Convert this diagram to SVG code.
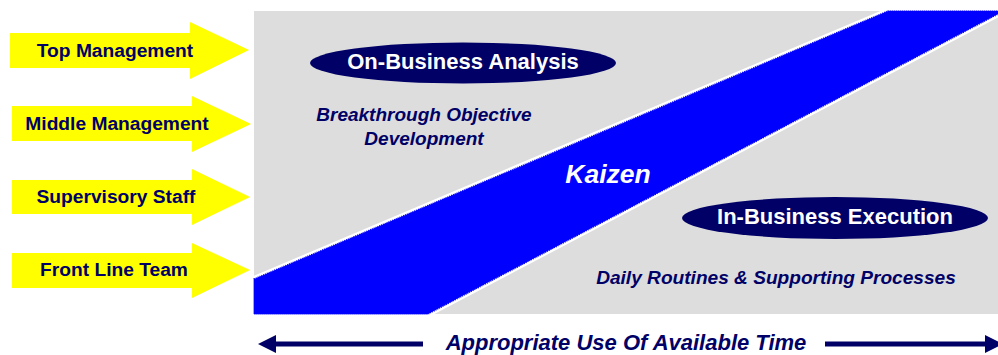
<svg xmlns="http://www.w3.org/2000/svg" width="998" height="355" viewBox="0 0 998 355">
<defs>
<style>
.lbl{font-family:"Liberation Sans",Arial,sans-serif;font-weight:bold;fill:#000066;text-anchor:middle}
.ya{fill:#FFFF00}
.ell{fill:#000066}
.wt{font-family:"Liberation Sans",Arial,sans-serif;font-weight:bold;fill:#FFFFFF;text-anchor:middle}
.it{font-style:italic}
</style>
</defs>
<rect width="998" height="355" fill="#FFFFFF"/>
<g id="background">
<rect x="254" y="11" width="744" height="303" fill="#DDDDDD"/>
<polygon points="254,279 888,11 998,11 998,14 428,314 254,314" fill="#0000FF" stroke="#FFFFFF" stroke-width="6" stroke-linejoin="miter"/>
<polygon points="254,279 888,11 998,11 998,14 428,314 254,314" fill="#0000FF" stroke="#0000FF" stroke-width="1.5" stroke-dasharray="1 1"/>
</g>
<g id="top-management">
<polygon class="ya" points="10,33 190,33 190,22 249,50 190,79 190,68 10,68"/>
<text class="lbl" x="115" y="57" font-size="19.2">Top Management</text>
</g>
<g id="middle-management">
<polygon class="ya" points="12,106 192,106 192,96 251,124 192,152 192,141 12,141"/>
<text class="lbl" x="117" y="130" font-size="19.2">Middle Management</text>
</g>
<g id="supervisory-staff">
<polygon class="ya" points="12,180 192,180 192,169 250,197 192,225 192,214 12,214"/>
<text class="lbl" x="116" y="203" font-size="19.2">Supervisory Staff</text>
</g>
<g id="front-line-team">
<polygon class="ya" points="12,253 192,253 192,243 250,270 192,298 192,288 12,288"/>
<text class="lbl" x="114" y="276" font-size="19.2">Front Line Team</text>
</g>
<g id="on-business">
<ellipse class="ell" cx="463" cy="63" rx="153" ry="20.5"/>
<text class="wt" x="463" y="69" font-size="22">On-Business Analysis</text>
</g>
<g id="breakthrough">
<text class="lbl it" x="424" y="121" font-size="19">Breakthrough Objective</text>
<text class="lbl it" x="424" y="145" font-size="19">Development</text>
</g>
<g id="kaizen">
<text class="wt it" x="608" y="183" font-size="26.5">Kaizen</text>
</g>
<g id="in-business">
<ellipse class="ell" cx="835" cy="218" rx="153" ry="21"/>
<text class="wt" x="835" y="224" font-size="22">In-Business Execution</text>
</g>
<g id="daily">
<text class="lbl it" x="776" y="284" font-size="19.1">Daily Routines &amp; Supporting Processes</text>
</g>
<g id="connectors">
<line x1="274" y1="344" x2="423" y2="344" stroke="#000066" stroke-width="5"/>
<polygon points="258,344 276,335 276,353" fill="#000066"/>
<line x1="825" y1="344" x2="986" y2="344" stroke="#000066" stroke-width="5"/>
<polygon points="1003,344 985,335 985,353" fill="#000066"/>
</g>
<g id="time-label">
<text class="lbl it" x="626" y="350" font-size="22">Appropriate Use Of Available Time</text>
</g>
</svg>
